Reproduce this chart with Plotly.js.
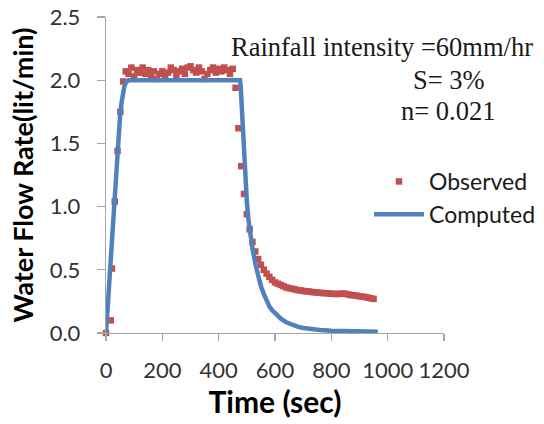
<!DOCTYPE html>
<html>
<head>
<meta charset="utf-8">
<script src="https://cdn.plot.ly/plotly-3.0.1.min.js"></script>
<style>html,body{margin:0;padding:0;background:#fff;}#chart{width:544px;height:424px;}</style>
</head>
<body>
<div id="chart"></div>
<script>
// Observed data (time in sec, flow in lit/min)
var obsTime = [0, 17, 21, 31, 41, 51, 61,
  70, 80, 90, 100, 110, 120, 130, 140, 150, 160, 170, 180, 190, 200,
  210, 220, 230, 240, 250, 260, 270, 280, 290, 300, 310, 320, 330, 340,
  350, 360, 370, 380, 390, 400, 410, 420, 430, 440, 450, 460,
  470, 480, 490, 500, 510, 520, 530, 540, 550, 560, 570, 580, 590, 600,
  610, 620, 630, 640, 650, 660, 670, 680, 690, 700, 710, 720, 730, 740,
  750, 760, 770, 780, 790, 800, 810, 820, 830, 840, 850, 860, 870, 880,
  890, 900, 910, 920, 930, 940, 950];
var obsFlow = [0.0, 0.10, 0.51, 1.04, 1.44, 1.75, 1.99,
  2.07, 2.05, 2.10, 2.03, 2.08, 2.06, 2.10, 2.05, 2.08, 2.04, 2.07, 2.01, 2.05, 2.07,
  2.03, 2.06, 2.10, 2.08, 2.04, 2.07, 2.09, 2.05, 2.10, 2.11, 2.08, 2.06, 2.10, 2.07,
  2.01, 2.05, 2.08, 2.10, 2.06, 2.09, 2.07, 2.10, 2.08, 2.05, 2.09, 1.94,
  1.62, 1.32, 1.10, 0.94, 0.82, 0.72, 0.645, 0.585, 0.54, 0.50, 0.47, 0.445, 0.42, 0.40,
  0.39, 0.38, 0.37, 0.36, 0.355, 0.35, 0.345, 0.34, 0.337, 0.333, 0.33, 0.328, 0.325, 0.322,
  0.32, 0.318, 0.316, 0.315, 0.313, 0.31, 0.31, 0.308, 0.31, 0.312, 0.31, 0.305, 0.30, 0.298,
  0.295, 0.29, 0.288, 0.285, 0.28, 0.275, 0.27];

// Computed data
var compTime = [0, 10, 20, 30, 40, 50, 55, 60, 65, 70, 75, 80, 100, 200, 300, 400, 476,
  478, 480, 482, 486, 490, 495, 500, 505, 510, 515, 520, 530, 540, 550, 560, 570, 580, 590, 600,
  620, 640, 660, 680, 700, 730, 760, 800, 850, 900, 965];
var compFlow = [0, 0.37, 0.75, 1.11, 1.45, 1.72, 1.82, 1.90, 1.95, 1.98, 1.995, 2.0, 2.0, 2.0, 2.0, 2.0, 2.0,
  1.96, 1.87, 1.75, 1.52, 1.34, 1.18, 1.04, 0.91, 0.82, 0.74, 0.67, 0.55, 0.45, 0.37, 0.31, 0.255, 0.21, 0.18, 0.155,
  0.115, 0.085, 0.065, 0.05, 0.04, 0.03, 0.024, 0.018, 0.014, 0.011, 0.009];

var seriesNames = ['Observed', 'Computed'];
var xTitle = 'Time (sec)';
var yTitle = 'Water Flow Rate(lit/min)';
var noteLines = ['Rainfall intensity =60mm/hr', 'S= 3%', 'n= 0.021'];

var tickFont = {family: 'Lato, "Open Sans", sans-serif', size: 22, color: '#333333'};

var traces = [
  {x: obsTime, y: obsFlow, name: seriesNames[0], type: 'scatter', mode: 'markers',
   marker: {symbol: 'square', size: 6.5, color: '#C0504D'}, cliponaxis: false},
  {x: compTime, y: compFlow, name: seriesNames[1], type: 'scatter', mode: 'lines',
   line: {color: '#4F81BD', width: 4.5}, cliponaxis: false}
];

var L = 106, R = 100, T = 17, B = 91;
var W = 544 - L - R, H = 424 - T - B;
function px(x) { return (x - L) / W; }
function py(y) { return (424 - B - y) / H; }

var serif = {family: '"Liberation Serif", "Times New Roman", serif', size: 26.5, color: '#1a1a1a'};

var layout = {
  width: 544, height: 424,
  margin: {l: L, r: R, t: T, b: B, pad: 0, autoexpand: false},
  paper_bgcolor: '#ffffff', plot_bgcolor: '#ffffff',
  showlegend: true,
  legend: {x: px(369), y: py(198), xanchor: 'left', yanchor: 'middle',
    font: {family: 'Lato, "Open Sans", sans-serif', size: 23, color: '#1a1a1a'},
    bgcolor: 'rgba(0,0,0,0)', itemwidth: 50, tracegroupgap: 0},
  xaxis: {range: [0, 1200], dtick: 200, tick0: 0, showgrid: false, zeroline: false,
    showline: true, linecolor: '#a6a6a6', linewidth: 1.2,
    ticks: 'outside', ticklen: 7, tickcolor: '#a6a6a6', tickwidth: 1.2,
    tickfont: tickFont, ticklabelstandoff: 10,
    title: {text: xTitle, font: {family: 'Lato, "Open Sans", sans-serif', size: 30, color: '#000', weight: 'bold'}, standoff: 8}},
  yaxis: {range: [0, 2.5], dtick: 0.5, tick0: 0, tickformat: '.1f', showgrid: false, zeroline: false,
    showline: true, linecolor: '#a6a6a6', linewidth: 1.2,
    ticks: 'outside', ticklen: 8, tickcolor: '#a6a6a6', tickwidth: 1.2,
    tickfont: tickFont, ticklabelstandoff: 12,
    title: {text: yTitle, font: {family: 'Lato, "Open Sans", sans-serif', size: 27, color: '#000', weight: 'bold'}, standoff: 8}},
  annotations: [
    {xref: 'paper', yref: 'paper', x: px(381.5), y: py(47), text: noteLines[0], showarrow: false, font: serif, xanchor: 'center', yanchor: 'middle'},
    {xref: 'paper', yref: 'paper', x: px(449), y: py(80), text: noteLines[1], showarrow: false, font: serif, xanchor: 'center', yanchor: 'middle'},
    {xref: 'paper', yref: 'paper', x: px(448), y: py(111), text: noteLines[2], showarrow: false, font: serif, xanchor: 'center', yanchor: 'middle'}
  ]
};

Plotly.newPlot('chart', traces, layout, {staticPlot: true, displayModeBar: false});
</script>
</body>
</html>
